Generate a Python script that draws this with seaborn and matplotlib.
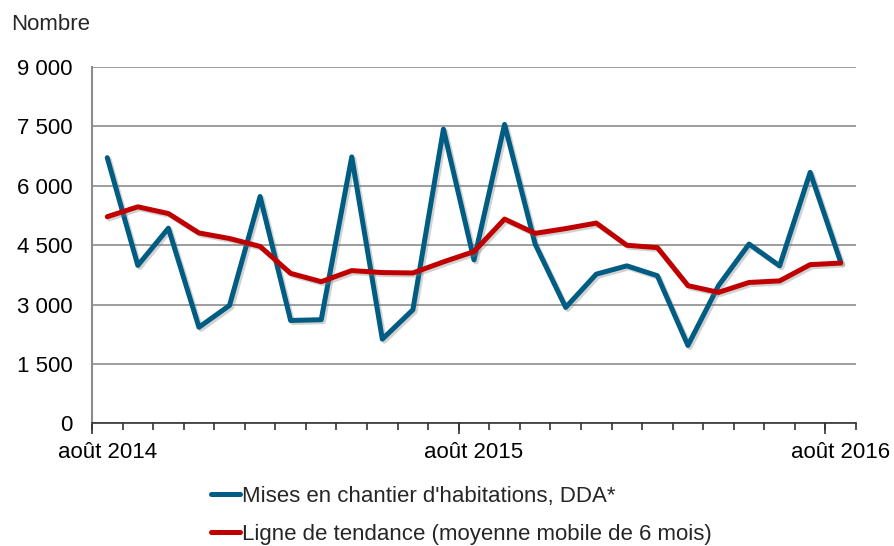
import matplotlib
matplotlib.use("Agg")
import matplotlib.pyplot as plt
import matplotlib.patheffects as pe
import seaborn as sns
import pandas as pd
import numpy as np

months = ["août 2014", "sept 2014", "oct 2014", "nov 2014", "déc 2014", "janv 2015",
          "févr 2015", "mars 2015", "avr 2015", "mai 2015", "juin 2015", "juil 2015",
          "août 2015", "sept 2015", "oct 2015", "nov 2015", "déc 2015", "janv 2016",
          "févr 2016", "mars 2016", "avr 2016", "mai 2016", "juin 2016", "juil 2016",
          "août 2016"]
mises = [6710, 3990, 4930, 2430, 2980, 5730, 2600, 2620, 6730, 2130, 2870, 7430,
         4130, 7550, 4530, 2930, 3770, 3980, 3730, 1970, 3480, 4530, 3980, 6340, 4070]
tendance = [5220, 5470, 5300, 4810, 4670, 4470, 3790, 3580, 3860, 3810, 3800, 4080,
            4340, 5160, 4800, 4920, 5060, 4500, 4440, 3480, 3310, 3560, 3600, 4010, 4050]
label_mises = "Mises en chantier d'habitations, DDA*"
label_tend = "Ligne de tendance (moyenne mobile de 6 mois)"
xtick_labels = ["août 2014", "août 2015", "août 2016"]
yticks = [0, 1500, 3000, 4500, 6000, 7500, 9000]

sns.set_theme(style="white")
plt.rcParams['font.family'] = ['Liberation Sans', 'DejaVu Sans']

df = pd.DataFrame({
    "idx": list(range(len(months))) * 2,
    "valeur": mises + tendance,
    "serie": [label_mises] * len(months) + [label_tend] * len(months),
})

fig = plt.figure(figsize=(8.94, 5.46), dpi=100)
ax = fig.add_axes([0.1029, 0.2244, 0.8546, 0.6529])

palette = {label_mises: "#005C82", label_tend: "#C00000"}
sns.lineplot(data=df, x="idx", y="valeur", hue="serie", palette=palette,
             linewidth=3.6, ax=ax, legend=False, sort=False)
for line in ax.lines:
    line.set_path_effects([pe.SimpleLineShadow(offset=(1.5, -1.5), alpha=0.35, shadow_color="gray"),
                           pe.Normal()])
    line.set_solid_joinstyle("round")
    line.set_solid_capstyle("round")

n = len(months)
ax.set_xlim(-0.5, n - 0.5)
ax.set_ylim(0, 9000)
ax.set_yticks(yticks)
ax.set_yticklabels([f"{v:,}".replace(",", " ") for v in yticks], fontsize=16)
ax.yaxis.grid(True, color="#8c8c8c", linewidth=1.2)
ax.xaxis.grid(False)
ax.tick_params(axis="y", length=0, pad=14, colors="black")

# category labels and boundary ticks
ax.set_xticks([0, 12, 24])
ax.set_xticklabels(xtick_labels, fontsize=16)
ax.tick_params(axis="x", which="major", length=0, pad=13, colors="black")
ax.set_xticks(np.arange(-0.5, n, 1.0), minor=True)
ax.tick_params(axis="x", which="minor", length=5, width=1.2, color="#333333", direction="out")
ax.xaxis.set_ticks_position("bottom")

sec = ax.secondary_xaxis("bottom")
sec.set_xticks([-0.5, 11.5, 23.5])
sec.set_xticklabels(["", "", ""])
sec.tick_params(axis="x", length=8, width=1.2, color="#333333")
sec.spines["bottom"].set_visible(False)

ax.set_xlabel("")
ax.set_ylabel("")
for s in ["top", "right"]:
    ax.spines[s].set_visible(False)
ax.spines["left"].set_color("#8c8c8c")
ax.spines["left"].set_linewidth(1.5)
ax.spines["bottom"].set_color("#333333")
ax.spines["bottom"].set_linewidth(1.2)

fig.text(11 / 894, 1 - 25 / 546, "Nombre", fontsize=16, va="center", ha="left")

handles = [plt.Line2D([], [], color=palette[label_mises], linewidth=3.6),
           plt.Line2D([], [], color=palette[label_tend], linewidth=3.6)]
fig.legend(handles, [label_mises, label_tend], loc="upper left",
           bbox_to_anchor=(0.236, 0.11), frameon=False, fontsize=16,
           handlelength=1.3, handletextpad=0.1, labelspacing=0.78,
           borderpad=0, borderaxespad=0)

fig.savefig("out.png", dpi=100)
